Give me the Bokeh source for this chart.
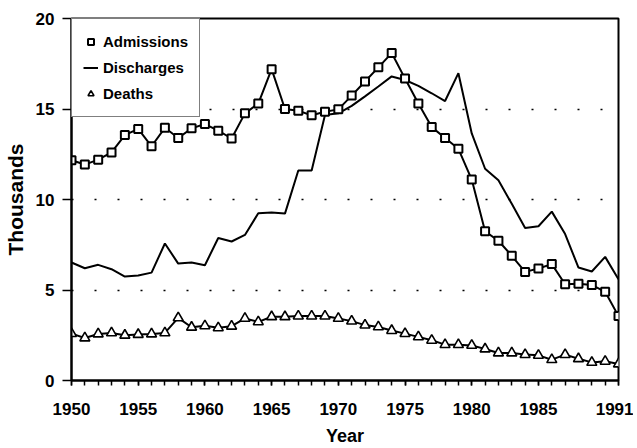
from bokeh.plotting import figure
from bokeh.models import Range1d, FixedTicker, Legend, LegendItem
from bokeh.embed import file_html
from bokeh.resources import INLINE

years = list(range(1950, 1992))
admissions = [12.17, 11.93, 12.2, 12.6, 13.56, 13.9, 12.94, 13.96, 13.4, 13.93,
              14.17, 13.8, 13.37, 14.76, 15.3, 17.2, 15.0, 14.9, 14.65, 14.85,
              14.98, 15.74, 16.52, 17.3, 18.09, 16.68, 15.3, 14.0, 13.4, 12.8,
              11.1, 8.24, 7.72, 6.89, 6.0, 6.19, 6.43, 5.32, 5.35, 5.28,
              4.9, 3.56]
discharges = [6.52, 6.2, 6.39, 6.15, 5.74, 5.8, 5.96, 7.57, 6.46, 6.52,
              6.37, 7.87, 7.68, 8.04, 9.24, 9.28, 9.22, 11.6, 11.6, 14.67,
              14.76, 15.17, 15.7, 16.24, 16.8, 16.6, 16.28, 15.87, 15.44, 16.98,
              13.65, 11.7, 11.06, 9.76, 8.43, 8.52, 9.33, 8.09, 6.24, 6.02,
              6.83, 5.59]
deaths = [2.59, 2.35, 2.57, 2.63, 2.5, 2.54, 2.57, 2.63, 3.46, 2.94,
          3.02, 2.91, 3.0, 3.43, 3.24, 3.52, 3.52, 3.56, 3.56, 3.56,
          3.43, 3.28, 3.06, 2.96, 2.76, 2.59, 2.41, 2.22, 1.98, 1.98,
          1.94, 1.74, 1.52, 1.52, 1.43, 1.39, 1.15, 1.43, 1.2, 1.0,
          1.06, 0.91]
x_ticks = [1950, 1955, 1960, 1965, 1970, 1975, 1980, 1985, 1991]
y_ticks = [0, 5, 10, 15, 20]
series_names = ["Admissions", "Discharges", "Deaths"]

FONT = "Liberation Sans"

p = figure(output_backend="svg", toolbar_location=None,
           width=625, height=438, frame_width=547, frame_height=362,
           min_border_left=63, min_border_right=15, min_border_top=18,
           min_border_bottom=58,
           x_range=Range1d(1950, 1991), y_range=Range1d(0, 20))

p.background_fill_color = "white"
p.border_fill_color = "white"
p.outline_line_color = "black"
p.outline_line_width = 2

p.xgrid.visible = False
p.ygrid.grid_line_color = "black"
p.ygrid.grid_line_width = 1.5
p.ygrid.grid_line_dash = "2 21"

# x axis
p.xaxis.ticker = FixedTicker(ticks=x_ticks, minor_ticks=years)
p.xaxis.axis_label = "Year"
p.xaxis.major_tick_in = 0
p.xaxis.major_tick_out = 5
p.xaxis.minor_tick_in = 0
p.xaxis.minor_tick_out = 5
p.xaxis.major_label_standoff = 17

# y axis
p.yaxis.ticker = FixedTicker(ticks=y_ticks)
p.yaxis.axis_label = "Thousands"
p.yaxis.major_tick_in = 0
p.yaxis.major_tick_out = 9
p.yaxis.major_label_standoff = 8

for ax in (p.xaxis[0], p.yaxis[0]):
    ax.axis_line_color = "black"
    ax.axis_line_width = 2
    ax.major_tick_line_color = "black"
    ax.major_tick_line_width = 1.5
    ax.minor_tick_line_color = "black"
    ax.minor_tick_line_width = 1.5
    ax.major_label_text_font = FONT
    ax.major_label_text_font_style = "bold"
    ax.major_label_text_font_size = "17px"
    ax.major_label_text_color = "black"
    ax.axis_label_text_font = FONT
    ax.axis_label_text_font_style = "bold"
    ax.axis_label_text_font_size = "18px"
    ax.axis_label_text_color = "black"
    ax.axis_label_standoff = 8

p.yaxis.axis_label_text_font_size = "21px"
p.yaxis.axis_label_standoff = 6

r_dis = p.line(years, discharges, line_color="black", line_width=2)
r_adm_l = p.line(years, admissions, line_color="black", line_width=2)
r_adm_m = p.scatter(years, admissions, marker="square", size=8,
                    fill_color="white", line_color="black", line_width=2)
r_dea_l = p.line(years, deaths, line_color="black", line_width=2)
r_dea_m = p.scatter(years, deaths, marker="triangle", size=10,
                    fill_color="white", line_color="black", line_width=1.6)

legend = Legend(items=[
    LegendItem(label=series_names[0], renderers=[r_adm_m]),
    LegendItem(label=series_names[1], renderers=[r_dis]),
    LegendItem(label=series_names[2], renderers=[r_dea_m]),
], location="top_left")
legend.margin = 0
legend.padding = 11
legend.spacing = 3
legend.glyph_width = 15
legend.glyph_height = 23
legend.label_height = 23
legend.label_standoff = 5
legend.border_line_color = "black"
legend.border_line_width = 1.5
legend.background_fill_color = "white"
legend.background_fill_alpha = 1
legend.label_text_font = FONT
legend.label_text_font_style = "bold"
legend.label_text_font_size = "15px"
legend.label_text_color = "black"
p.add_layout(legend)

open("out.html", "w").write(file_html(p, INLINE))
